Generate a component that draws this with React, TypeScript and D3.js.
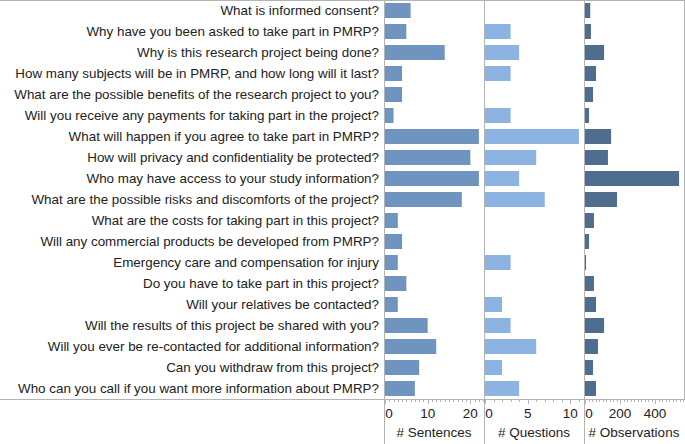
import React from 'react'
import * as d3 from 'd3'

const questions = [
  'What is informed consent?',
  'Why have you been asked to take part in PMRP?',
  'Why is this research project being done?',
  'How many subjects will be in PMRP, and how long will it last?',
  'What are the possible benefits of the research project to you?',
  'Will you receive any payments for taking part in the project?',
  'What will happen if you agree to take part in PMRP?',
  'How will privacy and confidentiality be protected?',
  'Who may have access to your study information?',
  'What are the possible risks and discomforts of the project?',
  'What are the costs for taking part in this project?',
  'Will any commercial products be developed from PMRP?',
  'Emergency care and compensation for injury',
  'Do you have to take part in this project?',
  'Will your relatives be contacted?',
  'Will the results of this project be shared with you?',
  'Will you ever be re-contacted for additional information?',
  'Can you withdraw from this project?',
  'Who can you call if you want more information about PMRP?',
]

const sentences = [6, 5, 14, 4, 4, 2, 22, 20, 22, 18, 3, 4, 3, 5, 3, 10, 12, 8, 7]
const questionCounts = [0, 3, 4, 3, 0, 3, 11, 6, 4, 7, 0, 0, 3, 0, 2, 3, 6, 2, 4]
const observations = [30, 34, 109, 63, 46, 23, 149, 131, 537, 183, 51, 23, 6, 51, 63, 109, 74, 46, 63]

const sentenceTicks = [0, 10, 20]
const questionTicks = [0, 5, 10]
const observationTicks = [0, 200, 400]

const W = 685
const H = 444
const axisY = 399
const font = '"Liberation Sans", Arial, sans-serif'
const grid = '#b3b3b3'

// one column per measure
const panels = [
  { title: '# Sentences', values: sentences, ticks: sentenceTicks, minor: 1, x0: 385, max: 23.2, color: '#7094c0' },
  { title: '# Questions', values: questionCounts, ticks: questionTicks, minor: 1, x0: 485, max: 11.6, color: '#8db3e2' },
  { title: '# Observations', values: observations, ticks: observationTicks, minor: 20, x0: 585, max: 565, color: '#4f6d8e' },
]

export default function App() {
  const y = d3.scaleBand<number>()
    .domain(d3.range(questions.length))
    .range([0, axisY])
    .paddingInner(6 / 21)
    .paddingOuter(3 / 21)

  return (
    <svg width={W} height={H} style={{ position: 'absolute', left: 0, top: 0, background: '#fff' }}
      fontFamily={font}>
      {/* frame lines */}
      <line x1={0} x2={W} y1={0.5} y2={0.5} stroke={grid} />
      <line x1={0} x2={W} y1={axisY + 0.5} y2={axisY + 0.5} stroke={grid} />

      {questions.map((q, i) => (
        <text key={q} x={379} y={(y(i) ?? 0) + y.bandwidth() / 2} dy="0.35em"
          textAnchor="end" fontSize={13.4} fill="#222">{q}</text>
      ))}

      {panels.map((p) => {
        const x = d3.scaleLinear().domain([0, p.max]).range([p.x0, p.x0 + 99])
        const minorTicks = d3.range(0, p.max, p.minor)
        return (
          <g key={p.title}>
            <line x1={p.x0 - 0.5} x2={p.x0 - 0.5} y1={0} y2={H} stroke={grid} />
            {p.values.map((v, i) => v > 0 && (
              <rect key={i} x={x(0)} y={y(i)} width={x(v) - x(0)} height={y.bandwidth()} fill={p.color} />
            ))}
            {minorTicks.map((t) => (
              <line key={t} x1={Math.round(x(t)) + 0.5} x2={Math.round(x(t)) + 0.5}
                y1={axisY} y2={axisY + (p.ticks.includes(t) ? 5 : 3)} stroke={grid} />
            ))}
            {p.ticks.map((t, j) => (
              <text key={t} x={x(t) + (j === 0 ? 4 : 0)} y={413} dy="0.35em" textAnchor="middle"
                fontSize={13.5} fill="#222">{t}</text>
            ))}
            <text x={p.x0 + 49} y={432} dy="0.35em" textAnchor="middle" fontSize={13.5} fill="#222">
              {p.title}
            </text>
          </g>
        )
      })}
      <line x1={684.5} x2={684.5} y1={0} y2={axisY} stroke={grid} />
    </svg>
  )
}
